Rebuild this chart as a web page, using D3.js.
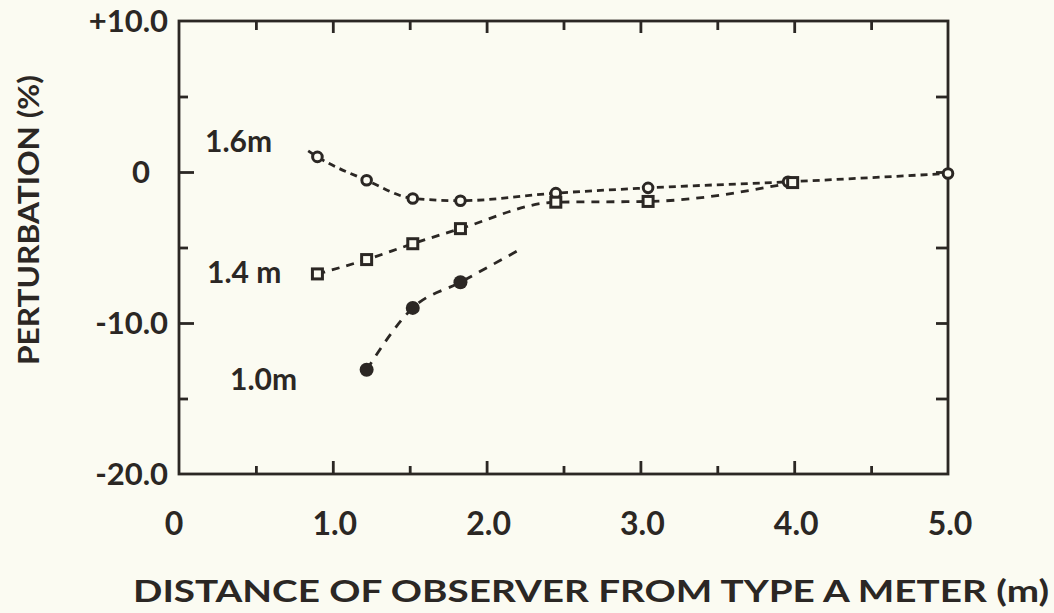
<!DOCTYPE html>
<html>
<head>
<meta charset="utf-8">
<script src="https://cdn.jsdelivr.net/npm/d3@7"></script>
<style>
  html, body { margin: 0; padding: 0; background: #fbfbf2; }
  svg { display: block; }
  text { font-family: Lato, "DejaVu Sans", sans-serif; font-weight: 700; fill: #2b2724; }
</style>
</head>
<body>
<div id="chart"></div>
<script>
// Distances (m) and perturbation (%)
const dist16 = [0.9, 1.22, 1.52, 1.83, 2.45, 3.05, 3.96, 5.0];
const pert16 = [1.0, -0.55, -1.75, -1.9, -1.4, -1.05, -0.65, -0.1];
const dist14 = [0.9, 1.22, 1.52, 1.83, 2.45, 3.05, 3.99];
const pert14 = [-6.75, -5.8, -4.75, -3.75, -2.0, -1.95, -0.7];
const dist10 = [1.22, 1.52, 1.83];
const pert10 = [-13.1, -9.0, -7.3];

// where the drawn curves run past the measured points
const line16Start = [0.84, 1.4];
const line10End = [2.24, -5.0];

const xMajor = [1, 2, 3, 4];
const xMinor = [0.5, 1.5, 2.5, 3.5, 4.5];
const xTickLabels = ["0", "1.0", "2.0", "3.0", "4.0", "5.0"];
const xLabelValues = [0, 1, 2, 3, 4, 5];
const yMajor = [0, -10];
const yMinor = [5, -5, -15];
const yTickLabels = ["+10.0", "0", "-10.0", "-20.0"];
const yLabelValues = [10, 0, -10, -20];

const width = 1054, height = 613;
const margin = { top: 21, right: 106, bottom: 139, left: 179 };
const ink = "#2b2724";
const paper = "#fbfbf2";

const svg = d3.select("#chart").append("svg")
    .attr("width", width)
    .attr("height", height);

const x = d3.scaleLinear().domain([0, 5]).range([margin.left, width - margin.right]);
const y = d3.scaleLinear().domain([-20, 10]).range([height - margin.bottom, margin.top]);

// Frame
svg.append("rect")
    .attr("x", x(0)).attr("y", y(10))
    .attr("width", x(5) - x(0)).attr("height", y(-20) - y(10))
    .attr("fill", "none").attr("stroke", ink).attr("stroke-width", 2.8);

// Inward ticks on all four sides
function ticks(axis, values, size, transform) {
    svg.append("g")
        .attr("transform", transform)
        .call(axis.tickValues(values).tickSize(-size).tickFormat(""))
        .call(g => g.select(".domain").remove())
        .call(g => g.selectAll("line").attr("stroke", ink).attr("stroke-width", 2.8));
}
ticks(d3.axisBottom(x), xMajor, 13, `translate(0,${y(-20)})`);
ticks(d3.axisBottom(x), xMinor, 8, `translate(0,${y(-20)})`);
ticks(d3.axisTop(x), xMajor, 12, `translate(0,${y(10)})`);
ticks(d3.axisTop(x), xMinor, 9, `translate(0,${y(10)})`);
ticks(d3.axisLeft(y), yMajor, 15, `translate(${x(0)},0)`);
ticks(d3.axisLeft(y), yMinor, 9, `translate(${x(0)},0)`);
ticks(d3.axisRight(y), yMajor, 12, `translate(${x(5)},0)`);
ticks(d3.axisRight(y), yMinor, 12, `translate(${x(5)},0)`);

// Tick labels
svg.selectAll(".xlab")
    .data(xLabelValues)
    .join("text")
    .attr("class", "xlab")
    .attr("x", d => x(d) + (d === 0 ? -5 : 2))
    .attr("y", 535)
    .attr("text-anchor", "middle")
    .attr("font-size", "32px")
    .text((d, i) => xTickLabels[i]);

svg.selectAll(".ylab")
    .data(yLabelValues)
    .join("text")
    .attr("class", "ylab")
    .attr("x", d => d === 0 ? 141 : 168)
    .attr("y", d => y(d) + 11)
    .attr("text-anchor", d => d === 0 ? "middle" : "end")
    .attr("font-size", "31px")
    .text((d, i) => yTickLabels[i]);

// Axis titles
svg.append("text")
    .attr("x", 591).attr("y", 602)
    .attr("text-anchor", "middle")
    .attr("font-size", "30px")
    .attr("textLength", 916)
    .attr("lengthAdjust", "spacingAndGlyphs")
    .text("DISTANCE OF OBSERVER FROM TYPE A METER (m)");

svg.append("text")
    .attr("transform", "translate(39,220) rotate(-90)")
    .attr("text-anchor", "middle")
    .attr("font-size", "29px")
    .attr("textLength", 290)
    .attr("lengthAdjust", "spacingAndGlyphs")
    .text("PERTURBATION (%)");

// Curves
const line = d3.line().x(d => x(d[0])).y(d => y(d[1])).curve(d3.curveMonotoneX);
const pts16 = [line16Start].concat(dist16.map((d, i) => [d, pert16[i]]));
const pts14 = dist14.map((d, i) => [d, pert14[i]]);
const pts10 = dist10.map((d, i) => [d, pert10[i]]).concat([line10End]);

svg.append("path").datum(pts16).attr("d", line)
    .attr("fill", "none").attr("stroke", ink).attr("stroke-width", 2.8)
    .attr("stroke-dasharray", "7,5");
svg.append("path").datum(pts14).attr("d", line)
    .attr("fill", "none").attr("stroke", ink).attr("stroke-width", 2.8)
    .attr("stroke-dasharray", "8,7");
svg.append("path").datum(pts10).attr("d", line)
    .attr("fill", "none").attr("stroke", ink).attr("stroke-width", 2.8)
    .attr("stroke-dasharray", "9,8");

// Markers
svg.selectAll(".c16")
    .data(dist16)
    .join("circle")
    .attr("class", "c16")
    .attr("cx", d => x(d))
    .attr("cy", (d, i) => y(pert16[i]))
    .attr("r", 4.8)
    .attr("fill", paper).attr("stroke", ink).attr("stroke-width", 3);

svg.selectAll(".s14")
    .data(dist14)
    .join("rect")
    .attr("class", "s14")
    .attr("x", d => x(d) - 5)
    .attr("y", (d, i) => y(pert14[i]) - 5)
    .attr("width", 10).attr("height", 10)
    .attr("fill", paper).attr("stroke", ink).attr("stroke-width", 3);

svg.selectAll(".f10")
    .data(dist10)
    .join("circle")
    .attr("class", "f10")
    .attr("cx", d => x(d))
    .attr("cy", (d, i) => y(pert10[i]))
    .attr("r", 7)
    .attr("fill", ink);

// Series labels
const seriesLabels = [
    { text: "1.6m", x: 205, y: 152 },
    { text: "1.4 m", x: 207, y: 283 },
    { text: "1.0m", x: 230, y: 390 }
];
svg.selectAll(".slab")
    .data(seriesLabels)
    .join("text")
    .attr("class", "slab")
    .attr("x", d => d.x).attr("y", d => d.y)
    .attr("font-size", "30px")
    .text(d => d.text);
</script>
</body>
</html>
